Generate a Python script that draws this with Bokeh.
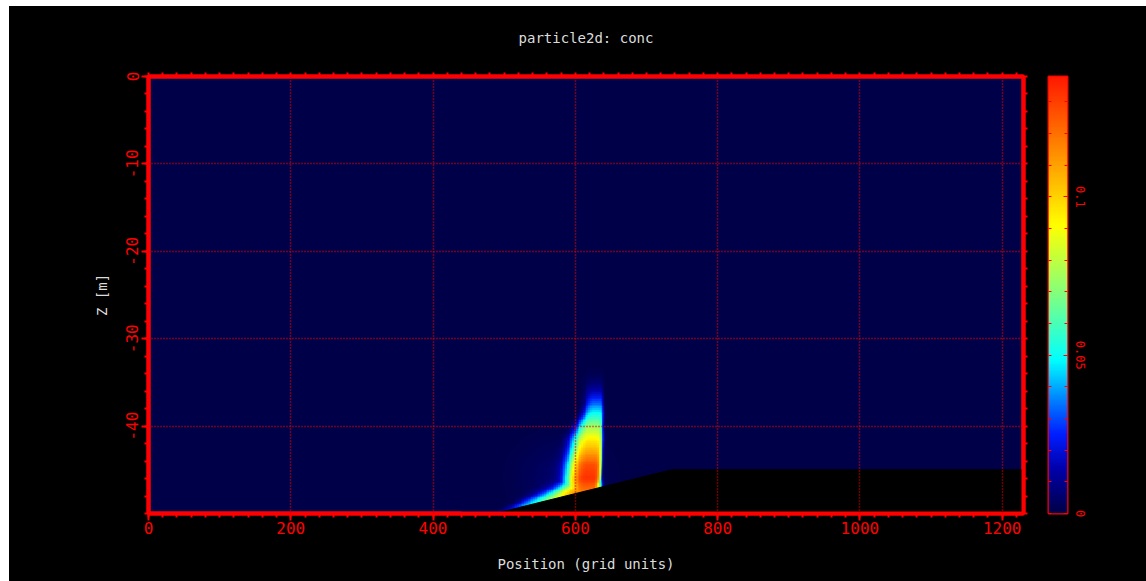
import numpy as np
from bokeh.plotting import figure
from bokeh.models import Range1d, LinearAxis, FixedTicker, LinearColorMapper, Spacer
from bokeh.layouts import row, column
from bokeh.embed import file_html
from bokeh.resources import INLINE

TITLE = "particle2d: conc"
X_LABEL = "Position (grid units)"
Y_LABEL = "Z [m]"

# model domain
x_limits = [0, 1230]
z_limits = [-50, 0]

# axis ticks and labels
x_major_ticks = [0, 200, 400, 600, 800, 1000, 1200]
x_tick_labels = ["0", "200", "400", "600", "800", "1000", "1200"]
x_minor_step = 20
x_grid_lines = [200, 400, 600, 800, 1000, 1200]
z_major_ticks = [0, -10, -20, -30, -40]
z_tick_labels = ["0", "-10", "-20", "-30", "-40"]
z_minor_step = 2
z_grid_lines = [-10, -20, -30, -40]

# colour scale
conc_max = 0.138
cbar_ticks = [0, 0.05, 0.1]
cbar_tick_labels = ["0", "0.05", "0.1"]
cbar_minor_step = 0.01

# sea bed profile
bed_x = [0, 487, 735, 1230]
bed_z = [-50, -50, -45, -45]

# rising column: concentration profile by depth
col_z = [-48.0, -47.0, -46.0, -44.5, -43.0, -41.5, -40.0, -38.6, -37.4, -36.3, -35.3, -34.3, -33.0, -31.5]
col_peak = [0.112, 0.12, 0.13, 0.125, 0.108, 0.092, 0.072, 0.050, 0.032, 0.017, 0.007, 0.002, 0.0, 0.0]
col_center = [614, 616, 617, 619, 620, 621, 623, 626, 627, 627, 627, 627, 627, 627]
col_left_width = [30, 30, 30, 30, 28, 26, 21, 16, 14, 14, 14, 15, 15, 15]
col_right_width = [15, 17, 18, 17, 17, 17, 15, 13, 12, 12, 12, 12, 12, 12]

# near-bed tail along the slope
tail_x = [490, 510, 530, 550, 570, 585, 600, 615, 630, 640]
tail_peak = [0.003, 0.02, 0.04, 0.055, 0.075, 0.095, 0.11, 0.115, 0.10, 0.0]
tail_thickness = [0.3, 0.5, 0.8, 1.0, 1.2, 1.5, 2.0, 2.5, 2.0, 1.0]

# faint diffuse cloud around the release
haze_peak = 0.005
haze_center = (580, -46)
haze_spread = (55, 4.0)

# colormap anchors (fraction of scale, rgb)
cmap_pos = [0.0, 0.10, 0.18, 0.26, 0.35, 0.50, 0.66, 0.83, 1.0]
cmap_rgb = [(0, 0, 72), (0, 0, 170), (0, 30, 255), (0, 130, 255), (0, 255, 255),
            (128, 255, 128), (255, 255, 0), (255, 140, 0), (255, 25, 0)]


def build_palette(n=256):
    t = np.linspace(0, 1, n)
    rgb = np.array(cmap_rgb, dtype=float)
    chans = [np.interp(t, cmap_pos, rgb[:, k]) for k in range(3)]
    return ["#%02x%02x%02x" % (int(round(r)), int(round(g)), int(round(b)))
            for r, g, b in zip(*chans)]


palette = build_palette()
mapper = LinearColorMapper(palette=palette, low=0, high=conc_max)

# concentration field on the model grid around the plume
dx, dz = 2.5, 0.2
fx0, fx1, fz0, fz1 = 440, 700, -50, -30
xc = np.arange(fx0, fx1, dx) + dx / 2
zc = np.arange(fz0, fz1, dz) + dz / 2
X, Z = np.meshgrid(xc, zc)
zb = np.interp(X, bed_x, bed_z)
h = np.clip(Z - zb, 0, None)

peak = np.interp(Z, col_z, col_peak)
xp = np.interp(Z, col_z, col_center)
wl = np.interp(Z, col_z, col_left_width)
wr = np.interp(Z, col_z, col_right_width)
off = X - xp
shape = np.where(off < 0, np.exp(-(np.abs(off) / wl) ** 3), np.exp(-(np.abs(off) / wr) ** 8))
column_c = peak * shape

tp = np.interp(X, tail_x, tail_peak, left=0, right=0)
tt = np.interp(X, tail_x, tail_thickness)
tail_c = tp * np.exp(-(h / tt) ** 2)

haze_c = haze_peak * np.exp(-((X - haze_center[0]) / haze_spread[0]) ** 2
                            - ((Z - haze_center[1]) / haze_spread[1]) ** 2)
conc = np.minimum(np.maximum(column_c, tail_c) + haze_c, conc_max).astype(np.float32)

RED = "#ff0000"
GRID_RED = "#e00000"
LABEL_GREY = "#dcdcdc"
FONT = "DejaVu Sans Mono"

p = figure(width=1026, height=575, x_range=Range1d(*x_limits), y_range=Range1d(*z_limits),
           output_backend="svg", toolbar_location=None,
           background_fill_color=palette[0], border_fill_color="black",
           outline_line_color=RED, outline_line_width=4,
           min_border_left=139, min_border_right=12, min_border_top=70, min_border_bottom=68)
p.title.visible = False

p.image(image=[conc], x=fx0, y=fz0, dw=fx1 - fx0, dh=fz1 - fz0, color_mapper=mapper)
p.patch(x=bed_x + [x_limits[1], x_limits[0]], y=bed_z + [z_limits[0], z_limits[0]],
        fill_color="black", line_color="black", line_width=1)

x_minor = [float(v) for v in np.arange(x_limits[0], x_limits[1] + 1, x_minor_step)]
z_minor = [float(v) for v in np.arange(z_limits[0], z_limits[1] + 1, z_minor_step)]


def style_axis(ax, ticker, labels):
    ax.ticker = ticker
    ax.axis_line_color = RED
    ax.axis_line_width = 4
    ax.major_tick_line_color = RED
    ax.minor_tick_line_color = RED
    ax.major_tick_line_width = 2
    ax.minor_tick_line_width = 2
    ax.major_tick_in = 0
    ax.minor_tick_in = 0
    ax.major_tick_out = 7
    ax.minor_tick_out = 4
    if labels is not None:
        ax.major_label_overrides = labels
        ax.major_label_text_color = RED
        ax.major_label_text_font = FONT
        ax.major_label_text_font_size = "16px"
    ax.axis_label_text_color = LABEL_GREY
    ax.axis_label_text_font = FONT
    ax.axis_label_text_font_size = "14px"
    ax.axis_label_text_font_style = "normal"


xa = p.xaxis[0]
style_axis(xa, FixedTicker(ticks=x_major_ticks, minor_ticks=x_minor),
           dict(zip(x_major_ticks, x_tick_labels)))
xa.axis_label = X_LABEL
xa.major_label_standoff = 1
xa.axis_label_standoff = 19

ya = p.yaxis[0]
style_axis(ya, FixedTicker(ticks=z_major_ticks, minor_ticks=z_minor),
           dict(zip(z_major_ticks, z_tick_labels)))
ya.axis_label = Y_LABEL
ya.major_label_orientation = "vertical"
ya.major_label_standoff = 3
ya.axis_label_standoff = 14

# opposite sides carry ticks only (all drawn as minor ticks, so no labels);
# the top one also carries the heading
top = LinearAxis()
style_axis(top, FixedTicker(ticks=[], minor_ticks=x_minor), None)
top.major_label_standoff = 0
top.axis_label = TITLE
top.axis_label_standoff = 27
p.add_layout(top, "above")
right = LinearAxis()
style_axis(right, FixedTicker(ticks=[], minor_ticks=z_minor), None)
right.major_label_standoff = 0
p.add_layout(right, "right")

p.xgrid.ticker = FixedTicker(ticks=x_grid_lines)
p.ygrid.ticker = FixedTicker(ticks=z_grid_lines)
for g in (p.xgrid[0], p.ygrid[0]):
    g.grid_line_color = GRID_RED
    g.grid_line_dash = "1 2"
    g.grid_line_width = 1.5
    g.level = "overlay"

# colour bar as its own narrow panel
cb = figure(width=111, height=575, x_range=Range1d(0, 1), y_range=Range1d(0, conc_max),
            output_backend="svg", toolbar_location=None, x_axis_type=None, y_axis_type=None,
            background_fill_color="black", border_fill_color="black",
            outline_line_color=RED, outline_line_width=2,
            min_border_left=13, min_border_right=79, min_border_top=70, min_border_bottom=68)
gradient = np.linspace(0, conc_max, 256).reshape(-1, 1)
cb.image(image=[gradient], x=0, y=0, dw=1, dh=conc_max, color_mapper=mapper)
cb.xgrid.visible = False
cb.ygrid.visible = False
cb_minor = [round(float(v), 3) for v in np.arange(0, conc_max, cbar_minor_step)]
for side in ("left", "right"):
    ax = LinearAxis()
    ax.axis_line_color = None
    ax.major_tick_line_color = RED
    ax.minor_tick_line_color = RED
    ax.major_tick_in = 4
    ax.major_tick_out = 0
    ax.minor_tick_in = 3
    ax.minor_tick_out = 0
    if side == "left":
        ax.ticker = FixedTicker(ticks=[], minor_ticks=cb_minor)
        ax.major_label_standoff = 0
    else:
        ax.ticker = FixedTicker(ticks=cbar_ticks, minor_ticks=cb_minor)
        ax.major_label_overrides = dict(zip(cbar_ticks, cbar_tick_labels))
        ax.major_label_orientation = "vertical"
        ax.major_label_text_color = RED
        ax.major_label_text_font = FONT
        ax.major_label_text_font_size = "12px"
        ax.major_label_standoff = 8
    cb.add_layout(ax, side)

panels = row(p, cb, spacing=0, styles={"background-color": "black"})
layout = column(Spacer(height=6), row(Spacer(width=9), panels, spacing=0), spacing=0)
open("out.html", "w").write(file_html(layout, INLINE))
